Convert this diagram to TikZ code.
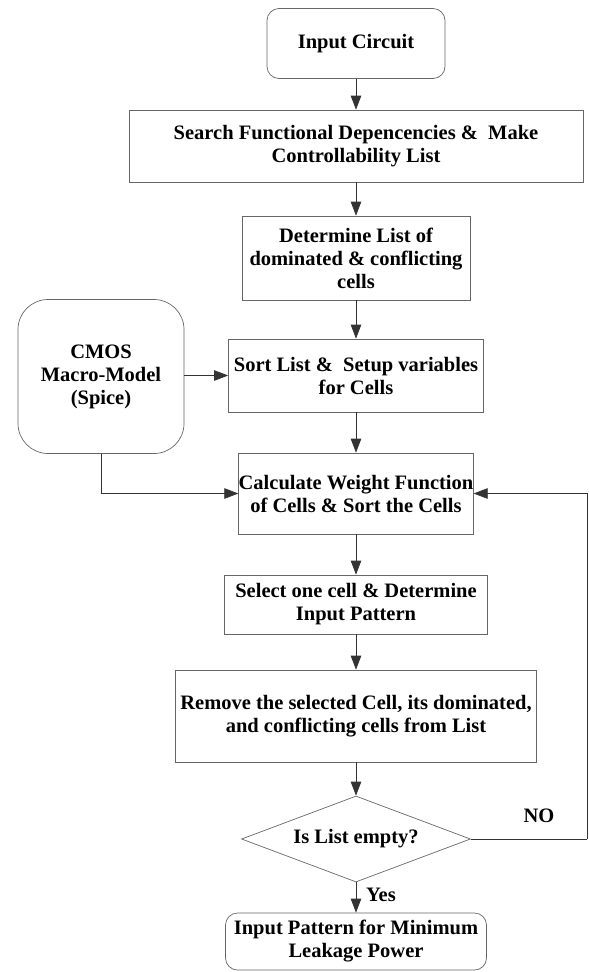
\documentclass[tikz,border=0pt]{standalone}
\usepackage{fontspec}
\setmainfont{Liberation Serif}[BoldFont={Liberation Serif Bold}]
\usetikzlibrary{shapes.geometric,arrows.meta}
\begin{document}
\begin{tikzpicture}[x=1pt,y=-1pt,
  every node/.style={font=\fontsize{20.5}{23}\selectfont\bfseries\rmfamily, align=center, inner sep=0pt},
  box/.style={draw=black!60, line width=0.7pt, rectangle},
  rbox/.style={box, rounded corners=12pt},
  dec/.style={draw=black!60, line width=0.7pt, diamond, aspect=2.66},
  arr/.style={draw=black!80, line width=0.7pt, -{Triangle[length=14pt,width=10.5pt]}},
  ln/.style={draw=black!80, line width=0.7pt}]
\useasboundingbox (0,0) rectangle (589,972);
\node[rbox, minimum width=178pt, minimum height=70pt] (in) at (356,43.5) {Input Circuit};
\node[box, minimum width=454pt, minimum height=72pt] (search) at (356,146) {Search Functional Depencencies \&\ \ Make\\Controllability List};
\node[box, minimum width=228pt, minimum height=84pt] (det) at (356,258) {Determine List of\\dominated \& conflicting\\cells};
\node[rbox, rounded corners=30pt, minimum width=166pt, minimum height=154pt] (cmos) at (101,376.5) {CMOS\\Macro-Model\\(Spice)};
\node[box, minimum width=255pt, minimum height=73pt] (sort) at (356,375.5) {Sort List \&\ \ Setup variables\\for Cells};
\node[box, minimum width=231pt, minimum height=81pt] (calc) at (356,493.5) {Calculate Weight Function\\of Cells \& Sort the Cells};
\node[box, minimum width=263pt, minimum height=59pt] (sel) at (356,604.5) {Select one cell \& Determine\\Input Pattern};
\node[box, minimum width=361pt, minimum height=92pt] (rem) at (356,716) {Remove the selected Cell, its dominated,\\and conflicting cells from List};
\node[dec, minimum width=229pt, minimum height=86pt] (dia) at (356,839) {Is List empty?};
\node[rbox, minimum width=261pt, minimum height=57pt] (fin) at (356,941.5) {Input Pattern for Minimum\\Leakage Power};
\coordinate (fb) at (587,839);
\node (no) at (539,816) {NO};
\node (yes) at (381,895) {Yes};
\path[arr] (in) -- (search);
\path[arr] (search) -- (det);
\path[arr] (det) -- (sort);
\path[arr] (sort) -- (calc);
\path[arr] (calc) -- (sel);
\path[arr] (sel) -- (rem);
\path[arr] (rem) -- (dia);
\path[arr] (dia) -- (fin);
\path[arr] (cmos.east |- sort.west) -- (sort.west);
\path[arr] (cmos.south) |- (calc.west);
\path[ln] (dia.east) -- (fb);
\path[arr] (fb) |- (calc.east);
\end{tikzpicture}
\end{document}
